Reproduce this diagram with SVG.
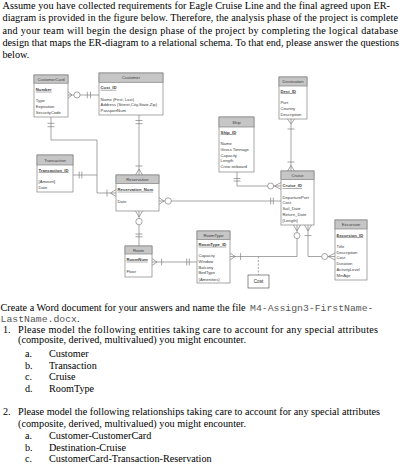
<svg xmlns="http://www.w3.org/2000/svg" width="404" height="468" viewBox="0 0 404 468">
<style>
.p{font-family:"Liberation Serif","Times New Roman",serif;font-size:10.2px;fill:#000}
.m{font-family:"Liberation Mono","Courier New",monospace;font-size:9.8px;fill:#555}
.box{fill:#fff;stroke:#808080;stroke-width:0.7}
.hdr{fill:#c6c6c6;stroke:#808080;stroke-width:0.7}
.t{font-family:"Liberation Sans",Arial,sans-serif;font-size:4.2px;fill:#404040}
.h{text-anchor:middle}
.k{font-weight:bold;text-decoration:underline}
.c{fill:none;stroke:#808080;stroke-width:0.7}
.o{fill:#fff;stroke:#808080;stroke-width:0.7}
.d{stroke-dasharray:2 1.5}
.cost{fill:#fff;stroke:#404040;stroke-width:0.6}
</style>

<g id="intro">
<text class="p" x="2.5" y="9" textLength="387.5" lengthAdjust="spacing">Assume you have collected requirements for Eagle Cruise Line and the final agreed upon ER-</text>
<text class="p" x="2.5" y="21.3" textLength="395.5" lengthAdjust="spacing">diagram is provided in the figure below.  Therefore, the analysis phase of the project is complete</text>
<text class="p" x="2.5" y="33.6" textLength="395.5" lengthAdjust="spacing">and your team will begin the design phase of the project by completing the logical database</text>
<text class="p" x="2.5" y="45.9" textLength="396.5" lengthAdjust="spacing">design that maps the ER-diagram to a relational schema. To that end, please answer the questions</text>
<text class="p" x="2.5" y="58.2">below.</text>
</g>

<g id="connectors">
<!-- CustomerCard - Customer -->
<path class="c" d="M68,95 H99 M68,91.8 L72,95 L68,98.2 M87.3,91.7 V98.3 M90.5,91.7 V98.3"/>
<circle class="o" cx="77" cy="95" r="3.1"/>
<!-- Customer - Reservation -->
<path class="c" d="M139,115 V175 M135.5,120.5 H142.5 M135.5,123.7 H142.5 M135.5,166 H142.5 M135.5,175 L139,169 L142.5,175"/>
<!-- CustomerCard - Transaction - Reservation -->
<path class="c" d="M51,117 V140 H97 V193 H116 M47.5,123.3 H54.5 M47.5,126.7 H54.5 M116,189.5 L110.5,193 L116,196.5 M107,189.5 V196.5"/>
<path class="c" d="M73,175 H97 M79.2,171.5 V178.5 M81.8,171.5 V178.5"/>
<!-- Reservation - Cruise -->
<path class="c" d="M159,201 H281 M159,197.6 L164,201 L159,204.4 M270.7,197.5 V204.5 M273.3,197.5 V204.5"/>
<circle class="o" cx="168.2" cy="201" r="3.2"/>
<!-- Ship - Cruise -->
<path class="c" d="M237,172 V186 H281 M233.5,178.5 H240.5 M233.5,181 H240.5 M281,182.6 L274.5,186 L281,189.4"/>
<circle class="o" cx="270.6" cy="186" r="3"/>
<!-- Destination - Cruise -->
<path class="c" d="M291,119 V171 M287.5,119 L291,124 L294.5,119 M287.5,129 H294.5 M287.5,162 H294.5 M287.5,171 L291,165.5 L294.5,171"/>
<!-- Reservation - Room -->
<path class="c" d="M139,211 V246 M135.5,211 L139,217 L142.5,211 M135.5,234 H142.5 M135.5,236.8 H142.5"/>
<circle class="o" cx="139" cy="221.6" r="3.2"/>
<!-- Room - RoomType -->
<path class="c" d="M152,262 H197 M152,258.6 L157,262 L152,265.4 M161.6,258.5 V265.5 M186.7,258.5 V265.5 M189.3,258.5 V265.5"/>
<!-- RoomType - Cruise -->
<path class="c" d="M230,256.5 H297 V225 M230,253 L235,256.5 L230,260 M240.6,253 V260 M293.5,225 L297,231 L300.5,225"/>
<circle class="o" cx="297" cy="235.6" r="3"/>
<path class="c d" d="M258.4,256.5 V275"/>
<!-- Cruise - Excursion -->
<path class="c" d="M308,225 V256.5 H335 M304.5,225 L308,231 L311.5,225 M304.5,235.6 H311.5 M335,253 L328.2,256.5 L335,260"/>
<circle class="o" cx="324.7" cy="256.5" r="3"/>
</g>

<g id="customercard">
<rect class="box" x="34" y="75" width="34" height="42"/>
<rect class="hdr" x="34" y="75" width="34" height="8.2"/>
<text class="t h" x="51" y="80.6">CustomerCard</text>
<text class="t k" x="35.8" y="90.8">Number</text>
<text class="t" x="35.8" y="102.2">Type</text>
<text class="t" x="35.8" y="108.1">Expiration</text>
<text class="t" x="35.8" y="113.8">SecurityCode</text>
</g>

<g id="customer">
<rect class="box" x="99" y="73" width="64" height="42"/>
<rect class="hdr" x="99" y="73" width="64" height="9.3"/>
<text class="t h" x="131" y="79.2">Customer</text>
<text class="t k" x="100.6" y="88.9">Cust_ID</text>
<text class="t" x="100.6" y="100.6">Name (First, Last)</text>
<text class="t" x="100.6" y="106.2">Address (Street,City,State,Zip)</text>
<text class="t" x="100.6" y="111.6">PassportNum</text>
</g>

<g id="ship">
<rect class="box" x="219" y="117" width="35" height="55"/>
<rect class="hdr" x="219" y="117" width="35" height="10"/>
<text class="t h" x="236.5" y="123.5">Ship</text>
<text class="t k" x="220.6" y="133.5">Ship_ID</text>
<text class="t" x="220.6" y="145.2">Name</text>
<text class="t" x="220.6" y="150.8">Gross Tonnage</text>
<text class="t" x="220.6" y="156.5">Capacity</text>
<text class="t" x="220.6" y="162.3">Length</text>
<text class="t" x="220.6" y="168">Crew onboard</text>
</g>

<g id="destination">
<rect class="box" x="279" y="77" width="28" height="42"/>
<rect class="hdr" x="279" y="77" width="28" height="9"/>
<text class="t h" x="293" y="83.2">Destination</text>
<text class="t k" x="280.5" y="92.5">Dest_ID</text>
<text class="t" x="280.5" y="104.2">Port</text>
<text class="t" x="280.5" y="109.8">Country</text>
<text class="t" x="280.5" y="115.5">Description</text>
</g>

<g id="transaction">
<rect class="box" x="37" y="155" width="36" height="37"/>
<rect class="hdr" x="37" y="155" width="36" height="10"/>
<text class="t h" x="55" y="161.5">Transaction</text>
<text class="t k" x="38.5" y="171.5">Transaction_ID</text>
<text class="t" x="38.5" y="183.2">[Amount]</text>
<text class="t" x="38.5" y="188.8">Date</text>
</g>

<g id="reservation">
<rect class="box" x="116" y="175" width="43" height="36"/>
<rect class="hdr" x="116" y="175" width="43" height="8.5"/>
<text class="t h" x="137.5" y="180.8">Reservation</text>
<text class="t k" x="117.5" y="190.8">Reservation_Num</text>
<text class="t" x="117.5" y="202.5">Date</text>
</g>

<g id="cruise">
<rect class="box" x="281" y="171" width="33" height="54"/>
<rect class="hdr" x="281" y="171" width="33" height="8.5"/>
<text class="t h" x="297.5" y="176.8">Cruise</text>
<text class="t k" x="282.5" y="187.2">Cruise_ID</text>
<text class="t" x="282.5" y="198.8">DeparturePort</text>
<text class="t" x="282.5" y="204.2">Cost</text>
<text class="t" x="282.5" y="209.8">Sail_Date</text>
<text class="t" x="282.5" y="215.5">Return_Date</text>
<text class="t" x="282.5" y="221.5">[Length]</text>
</g>

<g id="excursion">
<rect class="box" x="335" y="220" width="32" height="60"/>
<rect class="hdr" x="335" y="220" width="32" height="9"/>
<text class="t h" x="351" y="226">Excursion</text>
<text class="t k" x="336.5" y="236.5">Excursion_ID</text>
<text class="t" x="336.5" y="247.5">Title</text>
<text class="t" x="336.5" y="253.8">Description</text>
<text class="t" x="336.5" y="259.2">Cost</text>
<text class="t" x="336.5" y="264.8">Duration</text>
<text class="t" x="336.5" y="270.8">ActivityLevel</text>
<text class="t" x="336.5" y="276.5">MinAge</text>
</g>

<g id="roomtype">
<rect class="box" x="197" y="231" width="33" height="52"/>
<rect class="hdr" x="197" y="231" width="33" height="8.5"/>
<text class="t h" x="213.5" y="236.8">RoomType</text>
<text class="t k" x="198.5" y="245.8">RoomType_ID</text>
<text class="t" x="198.5" y="257.2">Capacity</text>
<text class="t" x="198.5" y="263.2">Window</text>
<text class="t" x="198.5" y="268.8">Balcony</text>
<text class="t" x="198.5" y="274.2">BedType</text>
<text class="t" x="198.5" y="280.6">(Amenities)</text>
</g>

<g id="room">
<rect class="box" x="125" y="246" width="27" height="31"/>
<rect class="hdr" x="125" y="246" width="27" height="8"/>
<text class="t h" x="138.5" y="251.8">Room</text>
<text class="t k" x="126.5" y="260.8">RoomNum</text>
<text class="t" x="126.5" y="273.2">Floor</text>
</g>

<g id="cost">
<rect class="cost" x="248" y="275" width="21" height="13"/>
<text class="t h" x="258.5" y="283.2" style="font-size:4.6px;fill:#222">Cost</text>
</g>

<g id="instructions">
<text class="p" x="0.5" y="311">Create a Word document for your answers and name the file <tspan class="m" x="250">M4-Assign3-FirstName-</tspan></text>
<text class="p" x="0.5" y="321.5"><tspan class="m">LastName.docx</tspan>.</text>
<text class="p" x="3" y="332.5">1.</text>
<text class="p" x="18" y="332.5" textLength="360" lengthAdjust="spacing">Please model the following entities taking care to account for any special attributes</text>
<text class="p" x="18" y="343.3" textLength="228" lengthAdjust="spacing">(composite, derived, multivalued) you might encounter.</text>
<text class="p" x="25" y="357.2">a.</text><text class="p" x="49" y="357.2">Customer</text>
<text class="p" x="25" y="368.8">b.</text><text class="p" x="49" y="368.8">Transaction</text>
<text class="p" x="25" y="380">c.</text><text class="p" x="49" y="380">Cruise</text>
<text class="p" x="25" y="391.5">d.</text><text class="p" x="49" y="391.5">RoomType</text>
<text class="p" x="3" y="415">2.</text>
<text class="p" x="18" y="415" textLength="362" lengthAdjust="spacing">Please model the following relationships taking care to account for any special attributes</text>
<text class="p" x="18" y="426.5" textLength="228" lengthAdjust="spacing">(composite, derived, multivalued) you might encounter.</text>
<text class="p" x="25" y="439">a.</text><text class="p" x="49" y="439">Customer-CustomerCard</text>
<text class="p" x="25" y="450.5">b.</text><text class="p" x="49" y="450.5">Destination-Cruise</text>
<text class="p" x="25" y="462">c.</text><text class="p" x="49" y="462">CustomerCard-Transaction-Reservation</text>
</g>
</svg>
